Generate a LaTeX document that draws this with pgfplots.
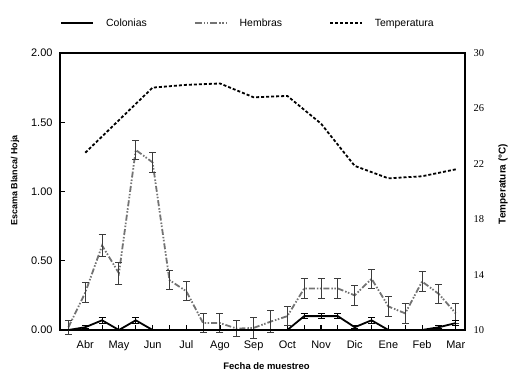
\documentclass[border=0pt]{standalone}
\usepackage{pgfplots}
\pgfplotsset{compat=1.18}
\usepackage{fontspec}
\setmainfont{Liberation Sans}
\newfontfamily\serifnum{Liberation Serif}
\definecolor{hgray}{RGB}{115,115,115}
\definecolor{egray}{RGB}{60,60,60}

\pgfplotstableread{
x col colerr hem hemerr
0  0.00 0.00 0.02 0.05
1  0.02 0.01 0.27 0.07
2  0.07 0.02 0.61 0.08
3  0.00 0.00 0.41 0.08
4  0.07 0.02 1.30 0.07
5  0.00 0.00 1.21 0.07
6  0.00 0.00 0.36 0.07
7  0.00 0.00 0.28 0.07
8  0.00 0.00 0.05 0.07
9  0.00 0.00 0.05 0.07
10 0.00 0.00 0.01 0.055
11 0.00 0.00 0.015 0.075
12 0.00 0.00 0.06 0.08
13 0.00 0.00 0.10 0.07
14 0.10 0.02 0.30 0.07
15 0.10 0.02 0.30 0.07
16 0.10 0.02 0.30 0.07
17 0.02 0.01 0.25 0.07
18 0.07 0.02 0.37 0.07
19 0.00 0.00 0.17 0.07
20 0.00 0.00 0.12 0.07
21 0.00 0.00 0.35 0.07
22 0.02 0.01 0.26 0.07
23 0.05 0.02 0.12 0.07
}\datatab

\pgfplotstableread{
x temp
1  22.8
3  25.15
5  27.5
7  27.7
9  27.8
11 26.8
13 26.9
15 24.9
17 21.85
19 20.95
21 21.1
23 21.6
}\temptab

\begin{document}
\begin{tikzpicture}[font=\fontsize{10.5}{12}\selectfont]
\path[use as bounding box] (-60bp,-50bp) rectangle (459bp,330bp);
\begin{axis}[
  scale only axis, width=405bp, height=277bp,
  xmin=-0.5, xmax=23.55, ymin=0, ymax=2,
  axis line style={line width=1.5bp},
  xtick={1,3,...,23},
  xticklabels={Abr,May,Jun,Jul,Ago,Sep,Oct,Nov,Dic,Ene,Feb,Mar},
  minor xtick={0,2,...,22},
  xtick pos=bottom, ytick pos=left,
  tick align=inside,
  major tick length=5bp, minor tick length=5bp,
  tick style={black, line width=1.1bp},
  ytick={0,0.5,1,1.5,2},
  tick label style={font=\fontsize{11}{12}\selectfont},
  yticklabel style={/pgf/number format/fixed, /pgf/number format/fixed zerofill, /pgf/number format/precision=2},
  /pgf/number format/assume math mode=true,
  xticklabel style={yshift=-7.5bp},
  yticklabel style={xshift=-4bp},
  xlabel={\fontsize{9.5}{11}\selectfont\bfseries Fecha de muestreo},
  ylabel={\fontsize{9}{11}\selectfont\bfseries Escama Blanca/ Hoja},
  xlabel style={at={(axis description cs:0.51,-0.13)}, anchor=center},
  ylabel style={at={(axis description cs:-0.111,0.54)}, anchor=center, rotate=0},
  legend style={at={(0.5,1)}, anchor=south, xshift=-15bp, yshift=22bp, draw=none, fill=none,
    legend columns=3,
    /tikz/every odd column/.append style={column sep=11bp},
    /tikz/every even column/.append style={column sep=46bp},
    nodes={inner sep=1bp}, font=\fontsize{10.5}{12}\selectfont},
  legend image code/.code={\draw[#1] (0bp,0bp) -- (32bp,0bp);},
  clip=false,
]
\addlegendimage{black, line width=1.8bp}
\addlegendentry{Colonias}
\addlegendimage{hgray, line width=1.8bp, dash pattern=on 7bp off 2bp on 1.5bp off 1.5bp on 1.5bp off 2bp}
\addlegendentry{Hembras}
\addlegendimage{black, line width=1.8bp, dash pattern=on 3bp off 2bp}
\addlegendentry{Temperatura}

\addplot[hgray, line width=1.8bp, dash pattern=on 6bp off 2bp on 1.5bp off 1.5bp on 1.5bp off 2bp,
  error bars/.cd, y dir=both, y explicit,
  error bar style={egray, line width=1bp, solid},
  error mark options={rotate=90, mark size=3.5bp, egray, line width=1bp}]
  table[x=x, y=hem, y error=hemerr] {\datatab};
\addplot[black, line width=1.8bp,
  error bars/.cd, y dir=both, y explicit,
  error bar style={black, line width=1bp, solid},
  error mark options={rotate=90, mark size=3.5bp, black, line width=1bp}]
  table[x=x, y=col, y error=colerr] {\datatab};
\end{axis}
\begin{axis}[
  scale only axis, width=405bp, height=277bp,
  xmin=-0.5, xmax=23.55, ymin=10, ymax=30,
  axis x line=none,
  axis y line*=right,
  axis line style={line width=1.5bp},
  ytick={10,14,18,22,26,30},
  major tick length=0bp,
  /pgf/number format/assume math mode=true,
  yticklabel style={font=\serifnum\fontsize{10.5}{12}\selectfont, xshift=5bp},
  ylabel={\fontsize{10}{11}\selectfont\bfseries Temperatura (°C)},
  ylabel style={at={(axis description cs:1.094,0.527)}, anchor=center, rotate=0},
]
\addplot[black, line width=1.8bp, dash pattern=on 3bp off 2bp] table[x=x, y=temp] {\temptab};
\end{axis}
\end{tikzpicture}
\end{document}
